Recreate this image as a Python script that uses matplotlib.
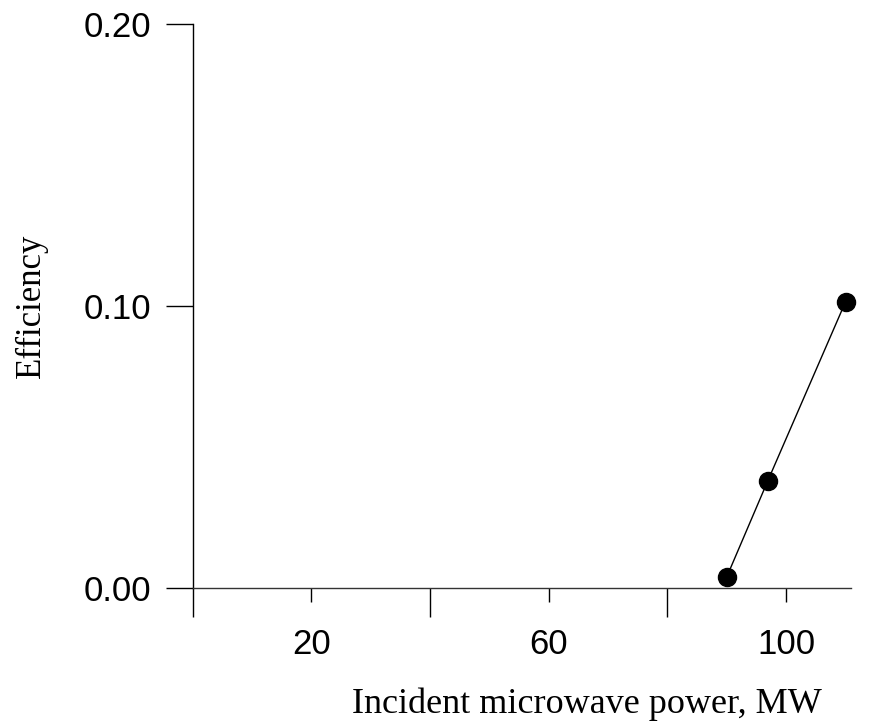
import matplotlib.pyplot as plt

# values
power_mw = [90.0, 96.9, 110.0]
efficiency = [0.004, 0.038, 0.1015]

x_labeled = [20, 60, 100]
x_unlabeled = [0, 40, 80]
y_ticks = [0.00, 0.10, 0.20]
y_ticklabels = ["0.00", "0.10", "0.20"]

fig = plt.figure(figsize=(8.8, 7.23), dpi=100)
ax = fig.add_axes([0.2188, 0.1867, 0.9676 - 0.2188, 0.9668 - 0.1867])

ax.plot(power_mw, efficiency, color="black", lw=1.0, marker="o",
        markersize=13, markerfacecolor="black", clip_on=False, zorder=3)

ax.set_xlim(0, 111)
ax.set_ylim(0, 0.20)

for side in ["top", "right"]:
    ax.spines[side].set_visible(False)
ax.spines["left"].set_linewidth(1.0)
ax.spines["bottom"].set_linewidth(1.0)
ax.spines["bottom"].set_color("#333333")

tick_font = {"family": "Liberation Sans", "size": 25}
xlabel_font = {"family": "Liberation Serif", "size": 26}
ylabel_font = {"family": "Liberation Serif", "size": 25}

ax.set_xticks(x_labeled)
ax.set_xticklabels([str(v) for v in x_labeled], fontdict=tick_font)
ax.set_xticks(x_unlabeled, minor=True)
ax.tick_params(axis="x", which="major", direction="out", length=10, width=1.0, pad=19)
ax.tick_params(axis="x", which="minor", direction="out", length=21, width=1.0)

ax.set_yticks(y_ticks)
ax.set_yticklabels(y_ticklabels, fontdict=tick_font)
ax.tick_params(axis="y", which="major", direction="out", length=19.5, width=1.0, pad=10)

# x label sits right of the axis centre in the original, near the bottom edge
fig.text(587 / 880, (723 - 713) / 723, "Incident microwave power, MW",
         ha="center", va="baseline", **xlabel_font)
ax.set_ylabel("Efficiency", fontdict=ylabel_font, labelpad=26)

fig.savefig("out.png", dpi=100)
